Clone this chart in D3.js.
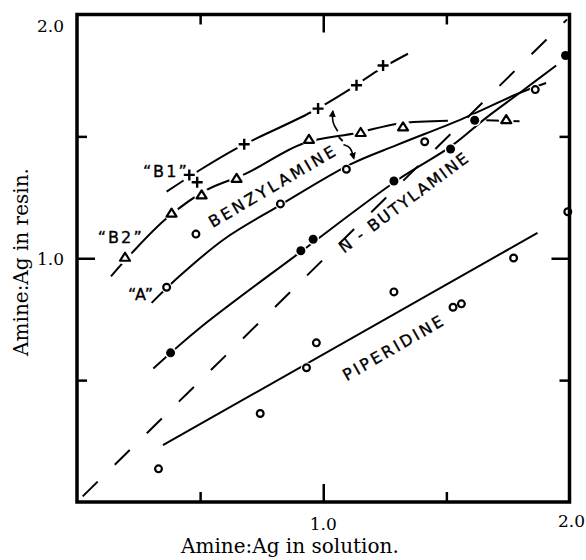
<!DOCTYPE html>
<html>
<head>
<meta charset="utf-8">
<script src="https://cdn.jsdelivr.net/npm/d3@7"></script>
<style>
  body { margin: 0; background: #fff; }
  svg { display: block; }
</style>
</head>
<body>
<div id="container"></div>
<script>
/* CONSTANTS AND GLOBALS */
const width = 586, height = 560;

/* DATA */
// piperidine - open circles, straight line
const pipX = [0.331, 0.744, 0.932, 0.972, 1.287, 1.527, 1.561, 1.773, 1.993];
const pipY = [0.136, 0.363, 0.551, 0.653, 0.862, 0.799, 0.813, 1.001, 1.191];
const pipLine = [[0.349, 0.233], [1.870, 1.104]];

// n-butylamine - filled circles
const butX = [0.380, 0.909, 0.959, 1.287, 1.517, 1.615, 1.984];
const butY = [0.612, 1.031, 1.078, 1.317, 1.448, 1.566, 1.832];
const butLine = [[0.31, 0.548], [0.5, 0.715], [0.9, 1.02], [1.3, 1.32], [1.52, 1.46], [1.66, 1.575], [1.8, 1.68], [1.946, 1.791]];

// benzylamine "A" - open circles
const aX = [0.364, 0.483, 0.826, 1.094, 1.412, 1.861];
const aY = [0.881, 1.099, 1.223, 1.365, 1.478, 1.692];
const aLine = [[0.303, 0.817], [0.42, 0.93], [0.6, 1.08], [0.82, 1.215], [1.11, 1.385], [1.3, 1.465], [1.567, 1.573], [1.797, 1.678], [1.905, 1.719]];

// benzylamine "B2" - triangles
const b2X = [0.195, 0.384, 0.506, 0.648, 0.942, 1.152, 1.324, 1.743];
const b2Y = [1.004, 1.185, 1.260, 1.328, 1.488, 1.516, 1.539, 1.569];
const b2Line = [[0.138, 0.926], [0.222, 1.021], [0.364, 1.164], [0.526, 1.28], [0.688, 1.348], [0.918, 1.471], [1.135, 1.514], [1.31, 1.553], [1.506, 1.564]];
const b2Tail = [[1.662, 1.566], [1.797, 1.562]];

// benzylamine "B1" - crosses
const b1X = [0.456, 0.488, 0.679, 0.979, 1.135, 1.243];
const b1Y = [1.342, 1.312, 1.468, 1.614, 1.710, 1.791];
const b1Line = [[0.364, 1.273], [0.499, 1.362], [0.648, 1.451], [0.715, 1.485], [0.952, 1.6], [1.101, 1.689], [1.223, 1.771], [1.344, 1.839]];

// 1:1 reference line
const diagLine = [[0, 0], [1.99, 1.98]];

// axis ticks and labels
const tickVals = [0.5, 1.0, 1.5];
const xTickVals = [1.0, 2.0];
const yTickVals = [1.0, 2.0];

// curve labels: text, x, y (data units at baseline centre), angle, length
const labelText = ["\u201CB1\u201D", "\u201CB2\u201D", "\u201CA\u201D", "BENZYLAMINE", "N - BUTYLAMINE", "PIPERIDINE"];
const labelX = [0.357, 0.174, 0.258, 0.803, 1.339, 1.294];
const labelY = [1.333, 1.063, 0.830, 1.274, 1.209, 0.611];
const labelAngle = [0, 0, 0, -30.5, -36.5, -30];
const labelLen = [44, 44, 25, 144, 156, 113];

// little arrows between the benzylamine curves
const arrowUp = [[1.059, 1.521], [1.035, 1.558], [1.039, 1.603]];
const arrowDown = [[1.082, 1.466], [1.112, 1.458], [1.124, 1.41]];
const arrowTick = [[1.063, 1.497], [1.079, 1.481]];

/* SCALES */
const x = d3.scaleLinear().domain([0, 2]).range([77, 569.5]);
const y = d3.scaleLinear().domain([0, 2]).range([502, 14.5]);

/* SVG */
const svg = d3.select("#container")
  .append("svg")
  .attr("width", width)
  .attr("height", height)
  .style("background", "#fff");

svg.append("defs").append("marker")
  .attr("id", "head")
  .attr("viewBox", "0 0 10 10")
  .attr("refX", 8).attr("refY", 5)
  .attr("markerWidth", 7).attr("markerHeight", 7)
  .attr("markerUnits", "userSpaceOnUse")
  .attr("orient", "auto")
  .append("path")
  .attr("d", "M0,0 L10,5 L0,10 z")
  .attr("fill", "#000");

const line = d3.line()
  .x(d => x(d[0]))
  .y(d => y(d[1]))
  .curve(d3.curveCatmullRom.alpha(0.5));

// dashed diagonal
svg.append("path")
  .attr("d", d3.line().x(d => x(d[0])).y(d => y(d[1]))(diagLine))
  .attr("fill", "none")
  .attr("stroke", "#000")
  .attr("stroke-width", 2)
  .attr("stroke-dasharray", "21,24")
  .attr("stroke-dashoffset", 37);

// curves
[pipLine, butLine, aLine, b2Line, b2Tail, b1Line].forEach(pts => {
  svg.append("path")
    .attr("d", line(pts))
    .attr("fill", "none")
    .attr("stroke", "#000")
    .attr("stroke-width", 2);
});

// series as point lists
const zip = (xs, ys) => xs.map((v, i) => [v, ys[i]]);
const series = [
  {pts: zip(pipX, pipY), type: "open", halo: 5.5},
  {pts: zip(butX, butY), type: "filled", halo: 6},
  {pts: zip(aX, aY), type: "open", halo: 5.5},
  {pts: zip(b2X, b2Y), type: "tri", halo: 7.5},
  {pts: zip(b1X, b1Y), type: "plus", halo: 8}
];

// white halos break the lines at the markers
series.forEach(s => {
  svg.append("g").selectAll("circle")
    .data(s.pts)
    .join("circle")
    .attr("cx", d => x(d[0]))
    .attr("cy", d => y(d[1]))
    .attr("r", s.halo)
    .attr("fill", "#fff");
});

// markers
series.forEach(s => {
  const g = svg.append("g");
  if (s.type === "open" || s.type === "filled") {
    g.selectAll("circle")
      .data(s.pts)
      .join("circle")
      .attr("cx", d => x(d[0]))
      .attr("cy", d => y(d[1]))
      .attr("r", s.type === "open" ? 3.4 : 4.5)
      .attr("fill", s.type === "open" ? "#fff" : "#000")
      .attr("stroke", "#000")
      .attr("stroke-width", s.type === "open" ? 2.2 : 0);
  } else if (s.type === "tri") {
    g.selectAll("path")
      .data(s.pts)
      .join("path")
      .attr("transform", d => `translate(${x(d[0])},${y(d[1])})`)
      .attr("d", "M0,-4.5 L5,3.5 L-5,3.5 Z")
      .attr("fill", "#fff")
      .attr("stroke", "#000")
      .attr("stroke-width", 2.2)
      .attr("stroke-linejoin", "round");
  } else {
    g.selectAll("path")
      .data(s.pts)
      .join("path")
      .attr("transform", d => `translate(${x(d[0])},${y(d[1])})`)
      .attr("d", "M-5.5,0 H5.5 M0,-5.5 V5.5")
      .attr("stroke", "#000")
      .attr("stroke-width", 2.4);
  }
});

// arrows
[arrowUp, arrowDown].forEach(pts => {
  svg.append("path")
    .attr("d", d3.line().x(d => x(d[0])).y(d => y(d[1])).curve(d3.curveBasis)(pts))
    .attr("fill", "none")
    .attr("stroke", "#000")
    .attr("stroke-width", 1.6)
    .attr("marker-end", "url(#head)");
});
svg.append("path")
  .attr("d", d3.line().x(d => x(d[0])).y(d => y(d[1]))(arrowTick))
  .attr("stroke", "#000")
  .attr("stroke-width", 2);

// frame
svg.append("rect")
  .attr("x", x(0))
  .attr("y", y(2))
  .attr("width", x(2) - x(0))
  .attr("height", y(0) - y(2))
  .attr("fill", "none")
  .attr("stroke", "#000")
  .attr("stroke-width", 3.5);

/* AXES - inward ticks on all four sides */
const tickLen = d => d === 1 ? 18 : 10;
function ticks(axis, transform, attr, sign) {
  const g = svg.append("g")
    .attr("transform", transform)
    .call(axis.tickValues(tickVals).tickSize(10).tickFormat(""));
  g.select(".domain").remove();
  g.selectAll(".tick line")
    .attr(attr, d => sign * tickLen(d))
    .attr("stroke", "#000")
    .attr("stroke-width", 2.5);
}
ticks(d3.axisBottom(x), `translate(0,${y(0)})`, "y2", -1);
ticks(d3.axisTop(x), `translate(0,${y(2)})`, "y2", 1);
ticks(d3.axisLeft(y), `translate(${x(0)},0)`, "x2", 1);
ticks(d3.axisRight(y), `translate(${x(2)},0)`, "x2", -1);

const serif = "'DejaVu Serif', 'Liberation Serif', serif";

svg.append("g").selectAll("text")
  .data(yTickVals)
  .join("text")
  .attr("x", x(0) - 13)
  .attr("y", d => y(d) + (d === 2 ? 17.5 : 7))
  .attr("text-anchor", "end")
  .attr("font-family", serif)
  .attr("font-size", 17)
  .text(d => d.toFixed(1));

svg.append("g").selectAll("text")
  .data(xTickVals)
  .join("text")
  .attr("x", d => d === 2 ? width - 1 : x(d))
  .attr("y", d => y(0) + (d === 2 ? 25 : 28))
  .attr("text-anchor", d => d === 2 ? "end" : "middle")
  .attr("font-family", serif)
  .attr("font-size", 17)
  .text(d => d.toFixed(1));

// axis titles
svg.append("text")
  .attr("x", 181)
  .attr("y", 553)
  .attr("font-family", serif)
  .attr("font-size", 20)
  .text("Amine:Ag in solution.");

svg.append("text")
  .attr("transform", "translate(28,262) rotate(-90)")
  .attr("text-anchor", "middle")
  .attr("font-family", serif)
  .attr("font-size", 20)
  .text("Amine:Ag in resin.");

// curve labels
svg.append("g").selectAll("text")
  .data(labelText)
  .join("text")
  .attr("transform", (d, i) => `translate(${x(labelX[i])},${y(labelY[i])}) rotate(${labelAngle[i]})`)
  .attr("text-anchor", "middle")
  .attr("font-family", "'DejaVu Sans', sans-serif")
  .attr("font-size", 16)
  .attr("stroke", "#000")
  .attr("stroke-width", 0.35)
  .attr("textLength", (d, i) => labelLen[i])
  .attr("lengthAdjust", "spacing")
  .text(d => d);
</script>
</body>
</html>
